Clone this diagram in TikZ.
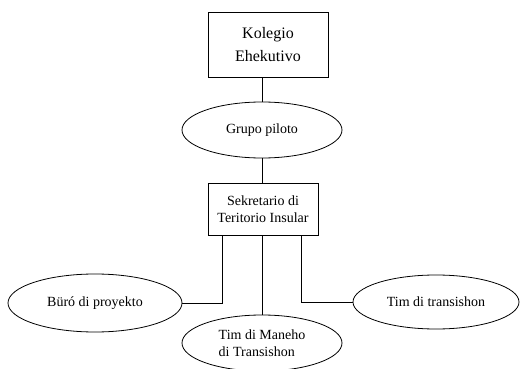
\documentclass[tikz,border=0pt]{standalone}
\usepackage{fontspec}
\setmainfont{Liberation Serif}
\usetikzlibrary{shapes.geometric}

\begin{document}
\begin{tikzpicture}[x=1pt, y=-1pt, line width=0.8pt]
    \tikzstyle{every node}+=[draw, inner sep=0pt, font=\fontsize{14}{17}\selectfont]
    \tikzstyle{blok}=[rectangle, align=center]
    \tikzstyle{oval}=[ellipse, align=left]
    \useasboundingbox (0,0) rectangle (520,369);
    \node[blok, minimum width=120pt, minimum height=65pt,
          font=\fontsize{16}{23}\selectfont] (kolegio) at (268, 44.5) {Kolegio\\Ehekutivo};
    \node[oval, minimum width=160pt, minimum height=56pt] (grupo) at (262, 130) {Grupo piloto};
    \node[blok, minimum width=110pt, minimum height=52pt] (sekretario) at (263, 209) {Sekretario di\\Teritorio Insular};
    \node[oval, minimum width=174pt, minimum height=58pt] (buro) at (95, 303) {Büró di proyekto};
    \node[oval, minimum width=160pt, minimum height=56pt] (maneho) at (262, 343) {Tim di Maneho\\di Transishon};
    \node[oval, minimum width=166pt, minimum height=54pt] (transishon) at (436, 302) {Tim di transishon};
    \coordinate (kbuur) at (222, 303);
    \coordinate (ktim) at (301, 302);
    \path (kolegio.south -| grupo) edge (grupo)
          (grupo) edge (sekretario.north -| grupo)
          (sekretario.south -| maneho) edge (maneho);
    \draw (sekretario.south -| kbuur) |- (buro.east);
    \draw (sekretario.south -| ktim) |- (transishon.west);
\end{tikzpicture}
\end{document}
